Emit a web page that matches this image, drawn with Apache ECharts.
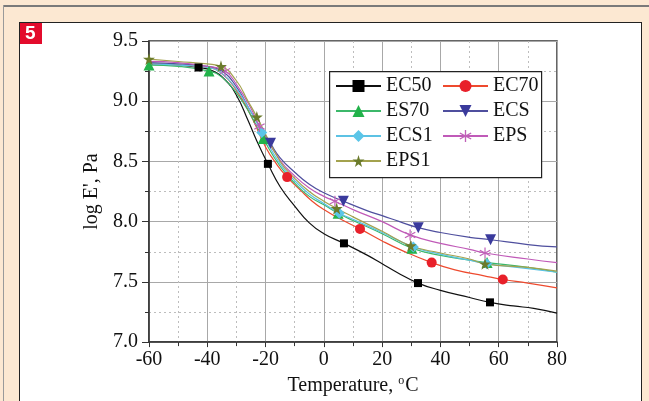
<!DOCTYPE html>
<html><head><meta charset="utf-8">
<script src="https://cdn.jsdelivr.net/npm/echarts@6/dist/echarts.min.js"></script>
<style>
html,body{margin:0;padding:0;background:#fce8d2;width:649px;height:401px;overflow:hidden;}
#topline{position:absolute;left:3px;top:5px;width:646px;height:0;border-top:2px solid #7a7a7a;}
#leftline{position:absolute;left:3px;top:5px;width:0;height:400px;border-left:1px solid #9a9a9a;}
#panel{position:absolute;left:19px;top:22px;width:621px;height:400px;background:#fff;border:1px solid #222;}
#chart{position:absolute;left:0;top:0;width:649px;height:401px;}
</style></head>
<body>
<div id="topline"></div><div id="leftline"></div><div id="panel"></div>
<div id="chart"></div>
<script>
// ---- data ----
const xTicks = [-60,-40,-20,0,20,40,60,80];
const yTicks = [7.0,7.5,8.0,8.5,9.0,9.5];

const EC50_T = [-60,-50,-43,-38,-34,-30,-26,-23,-19.2,-15,-10,-5,0,6.9,15,20,25,32.3,40,50,57,65,72,80];
const EC50_V = [9.31,9.30,9.28,9.25,9.18,9.05,8.84,8.67,8.48,8.29,8.13,7.99,7.90,7.82,7.72,7.65,7.58,7.49,7.43,7.37,7.33,7.30,7.28,7.24];
const EC50_M = [-43,-19.2,6.9,32.3,57];

const EC70_T = [-60,-50,-40,-35,-30,-25,-20,-16,-12.6,-8,-4,0,5,12.4,20,26,37,45,55,61.4,70,80];
const EC70_V = [9.31,9.30,9.28,9.23,9.09,8.88,8.62,8.47,8.37,8.26,8.17,8.10,8.03,7.94,7.84,7.77,7.66,7.60,7.55,7.52,7.49,7.45];
const EC70_M = [-12.6,12.4,37,61.4];

const ES70_T = [-60,-50,-39.4,-35,-30,-25,-20.8,-15,-10,-5,0,4.9,10,20,30.2,40,50,56,70,80];
const ES70_V = [9.30,9.29,9.25,9.20,9.07,8.88,8.69,8.46,8.32,8.21,8.14,8.07,8.01,7.90,7.78,7.72,7.68,7.66,7.62,7.58];
const ES70_M = [-60,-39.4,-20.8,4.9,30.2,56];

const ECS_T = [-60,-50,-40,-35,-30,-25,-18.3,-15,-10,-5,0,6.7,15,20,26,32.4,40,50,57.2,70,80];
const ECS_V = [9.32,9.31,9.29,9.25,9.12,8.91,8.65,8.53,8.41,8.31,8.24,8.17,8.09,8.05,8.00,7.95,7.91,7.87,7.85,7.81,7.79];
const ECS_M = [-18.3,6.7,32.4,57.2];

const ECS1_T = [-60,-50,-40,-35,-30,-25,-21.3,-15,-10,-5,0,5.3,10,20,30.7,40,50,55.9,70,80];
const ECS1_V = [9.31,9.30,9.28,9.23,9.10,8.91,8.74,8.48,8.34,8.23,8.15,8.07,8.02,7.91,7.79,7.73,7.68,7.65,7.61,7.58];
const ECS1_M = [-21.3,5.3,30.7,55.9];

const EPS_T = [-60,-50,-40,-33.9,-30,-25,-22.1,-15,-10,-5,0,3.8,10,20,29.6,40,50,55.3,70,80];
const EPS_V = [9.33,9.32,9.29,9.25,9.14,8.94,8.79,8.51,8.38,8.28,8.21,8.17,8.10,8.00,7.89,7.82,7.77,7.74,7.69,7.66];
const EPS_M = [-33.9,-22.1,3.8,29.6,55.3];

const EPS1_T = [-60,-50,-40,-35.3,-30,-26,-23,-15,-10,-5,0,4.4,10,20,29.8,40,50,55.3,70,80];
const EPS1_V = [9.35,9.33,9.31,9.29,9.17,9.00,8.87,8.50,8.36,8.25,8.17,8.11,8.04,7.92,7.80,7.74,7.69,7.65,7.62,7.59];
const EPS1_M = [-60,-35.3,-23,4.4,29.8,55.3];

// ---- rendering ----
const STAR = 'path://M50,0 L61,35 L98,35 L68,57 L79,91 L50,70 L21,91 L32,57 L2,35 L39,35 Z';
const ASTER = 'path://M45,0 L55,0 L55,100 L45,100 Z M9.5,20.7 L95.5,70.7 L90.5,79.3 L4.5,29.3 Z M4.5,70.7 L90.5,20.7 L95.5,29.3 L9.5,79.3 Z';
const FONT = 'Liberation Serif';

function build(T, V, M) {
  return T.map((t, i) => M.indexOf(t) >= 0 ? {value: [t, V[i]]} : {value: [t, V[i]], symbol: 'none'});
}
function ser(name, T, V, M, lineColor, markColor, symbol, size, rot) {
  return {
    name, type: 'line', smooth: 0.5, data: build(T, V, M),
    symbol, symbolSize: size, symbolRotate: rot || 0, showSymbol: true,
    lineStyle: {color: lineColor, width: 1.2},
    itemStyle: {color: markColor, borderWidth: 0},
    emphasis: {disabled: true}, animation: false
  };
}

const series = [
  ser('EC50', EC50_T, EC50_V, EC50_M, '#111111', '#000000', 'rect', 8),
  ser('EC70', EC70_T, EC70_V, EC70_M, '#ee4a2e', '#e8202a', 'circle', 10),
  ser('ES70', ES70_T, ES70_V, ES70_M, '#3cb86a', '#22b24a', 'triangle', 11),
  ser('ECS', ECS_T, ECS_V, ECS_M, '#4f4f9e', '#3a3a9c', 'triangle', 11, 180),
  ser('ECS1', ECS1_T, ECS1_V, ECS1_M, '#5cc2e4', '#5bc5e8', 'diamond', 11),
  ser('EPS', EPS_T, EPS_V, EPS_M, '#c05ab8', '#c060b8', ASTER, 11),
  ser('EPS1', EPS1_T, EPS1_V, EPS1_M, '#a3a24e', '#6b7b2b', STAR, 12)
];

const legendCommon = {
  orient: 'vertical', selectedMode: false, itemWidth: 45, itemHeight: 15, itemGap: 5,
  textStyle: {fontFamily: FONT, fontSize: 20, color: '#111', lineHeight: 20},
  padding: 0, z: 5
};

const chart = echarts.init(document.getElementById('chart'), null, {renderer: 'canvas'});
chart.setOption({
  backgroundColor: 'transparent',
  animation: false,
  grid: {left: 149, right: 92, top: 41, bottom: 58, show: true, borderColor: '#333', borderWidth: 1.5, backgroundColor: 'transparent'},
  xAxis: {
    type: 'value', min: xTicks[0], max: xTicks[xTicks.length - 1], interval: 20,
    name: 'Temperature, {sup|o}C', nameLocation: 'middle', nameGap: 29,
    nameTextStyle: {fontFamily: FONT, fontSize: 20, color: '#111', rich: {sup: {fontFamily: FONT, fontSize: 12, verticalAlign: 'top', padding: [0,1,10,0], color: '#111'}}},
    axisLine: {onZero: false, lineStyle: {color: '#333', width: 1.5}},
    axisTick: {show: true, length: 5, lineStyle: {color: '#333'}},
    minorTick: {show: true, splitNumber: 2, length: 4, lineStyle: {color: '#333'}},
    axisLabel: {fontFamily: FONT, fontSize: 20, color: '#111', margin: 8},
    splitLine: {show: true, lineStyle: {color: '#a8a8a8', width: 1}},
    minorSplitLine: {show: true, lineStyle: {color: '#bdbdbd', width: 1, type: [2, 3]}}
  },
  yAxis: {
    type: 'value', min: yTicks[0], max: yTicks[yTicks.length - 1], interval: 0.5,
    name: "log E', Pa", nameLocation: 'middle', nameGap: 42,
    nameTextStyle: {fontFamily: FONT, fontSize: 20, color: '#111'},
    axisLine: {onZero: false, lineStyle: {color: '#333', width: 1.5}},
    axisTick: {show: true, length: 7, lineStyle: {color: '#333'}},
    minorTick: {show: true, splitNumber: 2, length: 4, lineStyle: {color: '#333'}},
    axisLabel: {fontFamily: FONT, fontSize: 20, color: '#111', margin: 11, formatter: v => v.toFixed(1)},
    splitLine: {show: true, lineStyle: {color: '#a8a8a8', width: 1}},
    minorSplitLine: {show: true, lineStyle: {color: '#bdbdbd', width: 1, type: [2, 3]}}
  },
  legend: [
    Object.assign({}, legendCommon, {left: 335, top: 76, data: ['EC50', 'ES70', 'ECS1', 'EPS1']}),
    Object.assign({}, legendCommon, {left: 442, top: 76, data: ['EC70', 'ECS', 'EPS']})
  ],
  graphic: [
    {type: 'rect', left: 329, top: 71, z: 3, shape: {width: 212, height: 106},
     style: {fill: '#fff', stroke: '#222', lineWidth: 1.2}},
    {type: 'rect', left: 20, top: 23, z: 3, shape: {width: 22, height: 21}, style: {fill: '#e30b2c'}},
    {type: 'text', left: 25, top: 24, z: 4,
     style: {text: '5', fill: '#fff', font: 'bold 19px "Liberation Sans", Arial, sans-serif'}}
  ],
  series
});
</script>
</body></html>
